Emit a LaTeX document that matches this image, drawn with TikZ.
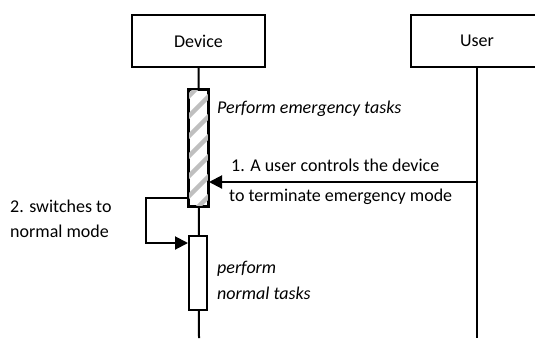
\documentclass[tikz,border=0pt]{standalone}
\usepackage{fontspec}
\setmainfont{Carlito}
\usetikzlibrary{arrows.meta}
\begin{document}
\begin{tikzpicture}[x=1pt,y=-1pt,
  txt/.style={font=\fontsize{18}{21}\selectfont},
  lbl/.style={txt, inner sep=0pt, anchor=west},
  note/.style={lbl, font=\fontsize{18}{21}\selectfont\itshape},
  actor/.style={draw, line width=2pt, minimum width=133pt, minimum height=52pt, txt, inner sep=0pt},
  life/.style={line width=2pt},
  msg/.style={line width=2pt, -{Triangle[length=13pt,width=13pt]}},
  bar/.style={draw, line width=2pt, fill=white, inner sep=0pt}]
\useasboundingbox (0,0) rectangle (535,338);
% participants
\node[actor] (dev) at (198.5,41) {Device};
\node[actor] (usr) at (477,41) {User};
% lifelines
\coordinate (devEnd) at (199,338);
\coordinate (usrEnd) at (477,338);
\draw[life] (dev.south) -- (devEnd);
\draw[life] (usr.south) -- (usrEnd);
% emergency activation (hatched)
\node[bar, minimum width=19pt, minimum height=116pt] (act1) at (198.5,148) {};
\begin{scope}
  \clip (act1.south west) rectangle (act1.north east);
  \foreach \y in {80,100,...,260}
    \draw[line width=4.5pt, gray!50] (185,\y) -- (212,\y-27);
\end{scope}
\draw[line width=2pt] (act1.south west) rectangle (act1.north east);
% normal activation
\node[bar, minimum width=18pt, minimum height=74pt] (act2) at (198,273) {};
% message 1
\coordinate (m1) at (477,182);
\draw[msg] (m1) -- (m1 -| act1.east);
\node[lbl] (m1a) at (231,165) {1. A user controls the device};
\node[lbl] (m1b) at (229,197) {to terminate emergency mode};
% self message 2
\coordinate (s1) at (act1.west |- 0,198);
\coordinate (s2) at (act2.west |- 0,243);
\draw[msg] (s1) -- (146,198) -- (146,243) -- (s2);
\node[lbl] (s2a) at (10,206) {2. switches to};
\node[lbl] (s2b) at (10,231) {normal mode};
% activity notes
\node[note] (n1) at (217,109) {Perform emergency tasks};
\node[note] (n2a) at (217,269) {perform};
\node[note] (n2b) at (217,293) {normal tasks};
\end{tikzpicture}
\end{document}
